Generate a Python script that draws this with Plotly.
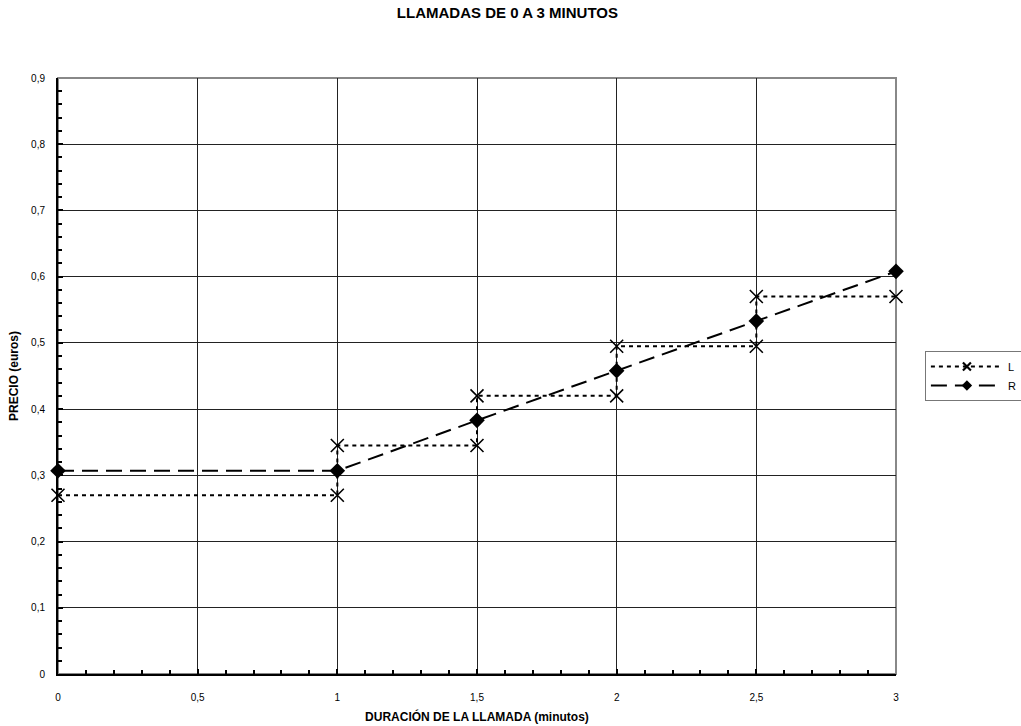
import plotly.graph_objects as go

# Data
l_x = [0, 1, 1, 1.5, 1.5, 2, 2, 2.5, 2.5, 3]
l_y = [0.27, 0.27, 0.345, 0.345, 0.42, 0.42, 0.495, 0.495, 0.57, 0.57]
r_x = [0, 1, 1.5, 2, 2.5, 3]
r_y = [0.307, 0.307, 0.383, 0.458, 0.533, 0.608]
series_names = ["L", "R"]

FONT = "Liberation Sans, Arial, sans-serif"
L_LINE = dict(color="black", width=2, dash="4px,4px")
R_LINE = dict(color="black", width=2, dash="16px,8px")

fig = go.Figure()
fig.add_trace(go.Scatter(
    x=l_x, y=l_y, name=series_names[0], mode="lines+markers", showlegend=False,
    line=L_LINE,
    marker=dict(symbol="x-thin-open", size=13, line=dict(color="black", width=1.6), color="black"),
    cliponaxis=False,
))
fig.add_trace(go.Scatter(
    x=r_x, y=r_y, name=series_names[1], mode="lines+markers", showlegend=False,
    line=R_LINE,
    marker=dict(symbol="diamond", size=12, color="black"),
    cliponaxis=False,
))
# legend entries with smaller markers (as in the reference legend)
fig.add_trace(go.Scatter(
    x=[None], y=[None], name=series_names[0], mode="lines+markers",
    line=dict(color="black", width=2, dash="4px,4px"),
    marker=dict(symbol="x-thin-open", size=8, line=dict(color="black", width=2.2), color="black"),
))
fig.add_trace(go.Scatter(
    x=[None], y=[None], name=series_names[1], mode="lines+markers",
    line=dict(color="black", width=2, dash="16px,8px"),
    marker=dict(symbol="diamond", size=8, color="black"),
))

fig.update_layout(
    width=1021, height=726,
    paper_bgcolor="white", plot_bgcolor="white",
    separators=",.",
    margin=dict(l=58, r=125, t=78, b=52, autoexpand=False),
    font=dict(family=FONT, size=10, color="black"),
    title=dict(text="<b>LLAMADAS DE 0 A 3 MINUTOS</b>", x=0.497, xanchor="center",
               y=1 - 7 / 726, yanchor="top", font=dict(family=FONT, size=15, color="black")),
    showlegend=True,
    legend=dict(x=1.0345, y=0.5, xanchor="left", yanchor="middle",
                bordercolor="#777", borderwidth=1, bgcolor="white",
                font=dict(family=FONT, size=11, color="black"),
                itemwidth=72, tracegroupgap=0),
    xaxis=dict(
        range=[0, 3], tick0=0, dtick=0.5, showgrid=True, gridcolor="#222", gridwidth=1,
        zeroline=False, showline=True, linecolor="black", linewidth=2, automargin=False,
        ticks="inside", ticklen=5, tickwidth=1.5, tickcolor="black",
        minor=dict(dtick=0.1, ticks="inside", ticklen=4, tickwidth=1.5, tickcolor="black", showgrid=False),
        tickfont=dict(family=FONT, size=10, color="black"),
        title=dict(text="<b>DURACIÓN DE LA LLAMADA (minutos)</b>", standoff=11,
                   font=dict(family=FONT, size=12, color="black")),
        ticklabelstandoff=13,
    ),
    yaxis=dict(
        range=[0, 0.9], tick0=0, dtick=0.1, showgrid=True, gridcolor="#222", gridwidth=1,
        zeroline=False, showline=True, linecolor="black", linewidth=2, automargin=False,
        ticks="inside", ticklen=5, tickwidth=1.5, tickcolor="black",
        minor=dict(dtick=0.02, ticks="inside", ticklen=4, tickwidth=1.5, tickcolor="black", showgrid=False),
        tickfont=dict(family=FONT, size=10, color="black"),
        title=dict(text="<b>PRECIO (euros)</b>", standoff=10,
                   font=dict(family=FONT, size=12, color="black")),
        ticklabelstandoff=9,
    ),
    shapes=[dict(type="rect", xref="paper", yref="paper", x0=0, x1=1, y0=0, y1=1,
                 line=dict(color="#888", width=2), layer="below")],
)

fig.write_html("out.html", config={"displayModeBar": False},
               post_script="document.body.style.margin='0';")
